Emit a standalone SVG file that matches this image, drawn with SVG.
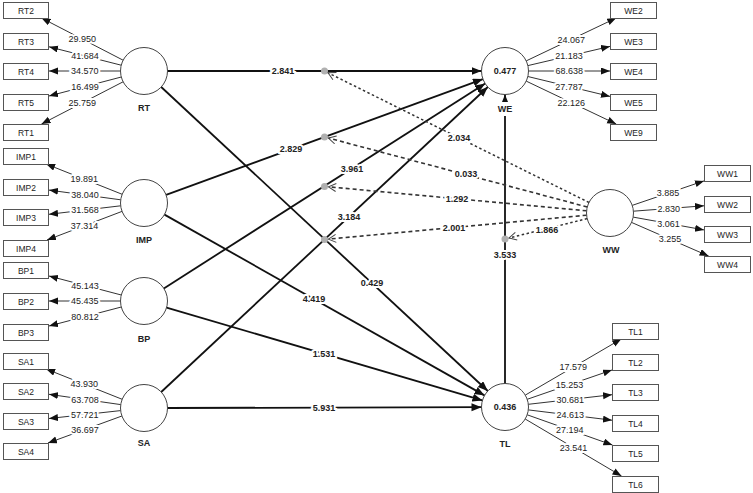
<svg xmlns="http://www.w3.org/2000/svg" width="753" height="493" viewBox="0 0 753 493">
<defs>
<marker id="ah" markerUnits="userSpaceOnUse" markerWidth="10" markerHeight="8" refX="9" refY="3.5" orient="auto"><path d="M0,0 L9,3.5 L0,7 z" fill="#111"/></marker>
<marker id="ahs" markerUnits="userSpaceOnUse" markerWidth="11" markerHeight="9" refX="10" refY="4" orient="auto"><path d="M0,0 L10,4 L0,8 z" fill="#111"/></marker>
<marker id="av" markerUnits="userSpaceOnUse" markerWidth="10" markerHeight="10" refX="8.5" refY="4.5" orient="auto"><path d="M1,0.5 L8.5,4.5 L1,8.5" fill="none" stroke="#444" stroke-width="1"/></marker>
<style>
.box{fill:#fff;stroke:#555;stroke-width:1}
.bt{font-family:"Liberation Sans",Arial,sans-serif;font-size:8.5px;fill:#222;text-anchor:middle;dominant-baseline:central}
.lv{fill:#fff;stroke:#444;stroke-width:1}
.ln{font-family:"Liberation Sans",Arial,sans-serif;font-size:9px;font-weight:bold;fill:#222;text-anchor:middle;dominant-baseline:central}
.ind{stroke:#333;stroke-width:1;fill:none;marker-end:url(#ah)}
.st{stroke:#111;stroke-width:1.8;fill:none;marker-end:url(#ahs)}
.md{stroke:#333;stroke-width:1.6;fill:none;stroke-dasharray:4,3;marker-end:url(#av)}
.md2{stroke:#333;stroke-width:1.5;fill:none;stroke-dasharray:2.5,2.5;marker-end:url(#av)}
.dot{fill:#b0b0b0}
.il{font-family:"Liberation Sans",Arial,sans-serif;font-size:9px;fill:#222;text-anchor:middle;dominant-baseline:central;stroke:#fff;stroke-width:4;paint-order:stroke}
.sl{font-family:"Liberation Sans",Arial,sans-serif;font-size:9px;font-weight:bold;fill:#222;text-anchor:middle;dominant-baseline:central;stroke:#fff;stroke-width:4;paint-order:stroke}
</style>
</defs>
<rect width="753" height="493" fill="#fff"/>

<g id="connectors">
<path class="st" d="M167.5,71 L481.5,71"/>
<path class="st" d="M166.1,194.9 L482.9,79.1"/>
<path class="st" d="M163.8,288.4 L485.2,83.6"/>
<path class="st" d="M161.2,392 L487.8,87"/>
<path class="st" d="M161.2,87 L487.8,391"/>
<path class="st" d="M164.5,214.6 L484.5,395.4"/>
<path class="st" d="M166.6,307.6 L482.4,400.4"/>
<path class="st" d="M167.5,408 L481.5,407.2"/>
<path class="st" d="M505,383.5 L505,94.5"/>
<circle class="dot" cx="324.5" cy="71" r="3.5"/>
<circle class="dot" cx="324.5" cy="137" r="3.5"/>
<circle class="dot" cx="324.5" cy="186.5" r="3.5"/>
<circle class="dot" cx="324.5" cy="239.5" r="3.5"/>
<circle class="dot" cx="505" cy="239" r="3.5"/>
<path class="md2" d="M589,202.5 L328,72.8"/>
<path class="md" d="M587.3,207 L328.4,138"/>
<path class="md" d="M586.6,210.8 L328.5,186.8"/>
<path class="md" d="M586.6,215.2 L328.5,239.1"/>
<path class="md2" d="M587.2,218.6 L509,238"/>
<path class="ind" d="M123.1,60.2 L41.5,18"/>
<path class="ind" d="M121.2,65.2 L49,46.8"/>
<path class="ind" d="M120.5,71 L49,71"/>
<path class="ind" d="M121.3,77 L49,96"/>
<path class="ind" d="M123.1,81.8 L41.5,124"/>
<path class="ind" d="M122.2,194.3 L46.1,164"/>
<path class="ind" d="M120.7,199.8 L49,190.1"/>
<path class="ind" d="M120.7,205.8 L49,214.3"/>
<path class="ind" d="M122,211.4 L47,240"/>
<path class="ind" d="M121.3,295 L49,276"/>
<path class="ind" d="M120.5,301 L49,301"/>
<path class="ind" d="M121.3,307 L49,326"/>
<path class="ind" d="M122.2,399.3 L46.1,369"/>
<path class="ind" d="M120.7,404.6 L49,394.3"/>
<path class="ind" d="M120.6,410.6 L49,418.5"/>
<path class="ind" d="M121.9,416 L48,443"/>
<path class="ind" d="M526.2,60.9 L616.2,18"/>
<path class="ind" d="M527.9,65.6 L610,46.4"/>
<path class="ind" d="M528.5,71 L610,71"/>
<path class="ind" d="M527.8,76.5 L610,96.4"/>
<path class="ind" d="M526.2,81.1 L616.2,124"/>
<path class="ind" d="M525.3,395.1 L621.3,339"/>
<path class="ind" d="M527.2,399.3 L612,370"/>
<path class="ind" d="M528.3,404.3 L612,394.7"/>
<path class="ind" d="M528.3,409.9 L612,420.2"/>
<path class="ind" d="M527.2,414.8 L612.4,445"/>
<path class="ind" d="M525.2,419 L621.5,476"/>
<path class="ind" d="M632.2,205.4 L704,180.9"/>
<path class="ind" d="M633.4,211.2 L704,205.8"/>
<path class="ind" d="M633.1,217.1 L704,229.9"/>
<path class="ind" d="M631.5,222.4 L708.6,256"/>
<text class="sl" x="283" y="71">2.841</text>
<text class="sl" x="291" y="149">2.829</text>
<text class="sl" x="352" y="168.5">3.961</text>
<text class="sl" x="349" y="216.5">3.184</text>
<text class="sl" x="372" y="283">0.429</text>
<text class="sl" x="314" y="299">4.419</text>
<text class="sl" x="324" y="354">1.531</text>
<text class="sl" x="324" y="407.5">5.931</text>
<text class="sl" x="505" y="255">3.533</text>
<text class="sl" x="459" y="138">2.034</text>
<text class="sl" x="466" y="174">0.033</text>
<text class="sl" x="457" y="199">1.292</text>
<text class="sl" x="454" y="228">2.001</text>
<text class="sl" x="547" y="230">1.866</text>
<text class="il" x="82.3" y="39.1">29.950</text>
<text class="il" x="85.1" y="56">41.684</text>
<text class="il" x="84.8" y="71">34.570</text>
<text class="il" x="85.1" y="86.5">16.499</text>
<text class="il" x="82.3" y="102.9">25.759</text>
<text class="il" x="84.2" y="179.2">19.891</text>
<text class="il" x="84.9" y="195">38.040</text>
<text class="il" x="84.9" y="210">31.568</text>
<text class="il" x="84.5" y="225.7">37.314</text>
<text class="il" x="85.1" y="285.5">45.143</text>
<text class="il" x="84.8" y="301">45.435</text>
<text class="il" x="85.1" y="316.5">80.812</text>
<text class="il" x="84.2" y="384.2">43.930</text>
<text class="il" x="84.9" y="399.5">63.708</text>
<text class="il" x="84.8" y="414.5">57.721</text>
<text class="il" x="85" y="429.5">36.697</text>
<text class="il" x="571.2" y="39.5">24.067</text>
<text class="il" x="569" y="56">21.183</text>
<text class="il" x="569.3" y="71">68.638</text>
<text class="il" x="568.9" y="86.5">27.787</text>
<text class="il" x="571.2" y="102.5">22.126</text>
<text class="il" x="573.3" y="367">17.579</text>
<text class="il" x="569.6" y="384.6">15.253</text>
<text class="il" x="570.2" y="399.5">30.681</text>
<text class="il" x="570.2" y="415">24.613</text>
<text class="il" x="569.8" y="429.9">27.194</text>
<text class="il" x="573.4" y="447.5">23.541</text>
<text class="il" x="668.1" y="193.1">3.885</text>
<text class="il" x="668.7" y="208.5">2.830</text>
<text class="il" x="668.6" y="223.5">3.061</text>
<text class="il" x="670" y="239.2">3.255</text>
</g>

<g id="RT"><circle class="lv" cx="144" cy="71" r="23.5"/><text class="ln" x="144" y="108">RT</text></g>
<g id="IMP"><circle class="lv" cx="144" cy="203" r="23.5"/><text class="ln" x="144" y="240">IMP</text></g>
<g id="BP"><circle class="lv" cx="144" cy="301" r="23.5"/><text class="ln" x="144" y="339">BP</text></g>
<g id="SA"><circle class="lv" cx="144" cy="408" r="23.5"/><text class="ln" x="144" y="443">SA</text></g>
<g id="WE"><circle class="lv" cx="505" cy="71" r="23.5"/><text class="ln" x="505" y="71">0.477</text><rect x="495" y="102" width="20" height="14" fill="#fff"/><text class="ln" x="505" y="109">WE</text></g>
<g id="TL"><circle class="lv" cx="505" cy="407" r="23.5"/><text class="ln" x="505" y="407">0.436</text><text class="ln" x="505" y="444">TL</text></g>
<g id="WW"><circle class="lv" cx="610" cy="213" r="23.5"/><text class="ln" x="611" y="250">WW</text></g>

<g id="RT2"><rect class="box" x="3.5" y="2.5" width="45" height="16"/><text class="bt" x="26" y="10.5">RT2</text></g>
<g id="RT3"><rect class="box" x="3.5" y="33.5" width="45" height="16"/><text class="bt" x="26" y="41.5">RT3</text></g>
<g id="RT4"><rect class="box" x="3.5" y="63.5" width="45" height="16"/><text class="bt" x="26" y="71.5">RT4</text></g>
<g id="RT5"><rect class="box" x="3.5" y="94.5" width="45" height="16"/><text class="bt" x="26" y="102.5">RT5</text></g>
<g id="RT1"><rect class="box" x="3.5" y="124.5" width="45" height="16"/><text class="bt" x="26" y="132.5">RT1</text></g>
<g id="IMP1"><rect class="box" x="3.5" y="148.5" width="45" height="16"/><text class="bt" x="26" y="156.5">IMP1</text></g>
<g id="IMP2"><rect class="box" x="3.5" y="179.5" width="45" height="16"/><text class="bt" x="26" y="187.5">IMP2</text></g>
<g id="IMP3"><rect class="box" x="3.5" y="209.5" width="45" height="16"/><text class="bt" x="26" y="217.5">IMP3</text></g>
<g id="IMP4"><rect class="box" x="3.5" y="240.5" width="45" height="16"/><text class="bt" x="26" y="248.5">IMP4</text></g>
<g id="BP1"><rect class="box" x="3.5" y="262.5" width="45" height="16"/><text class="bt" x="26" y="270.5">BP1</text></g>
<g id="BP2"><rect class="box" x="3.5" y="293.5" width="45" height="16"/><text class="bt" x="26" y="301.5">BP2</text></g>
<g id="BP3"><rect class="box" x="3.5" y="324.5" width="45" height="16"/><text class="bt" x="26" y="332.5">BP3</text></g>
<g id="SA1"><rect class="box" x="3.5" y="353.5" width="45" height="16"/><text class="bt" x="26" y="361.5">SA1</text></g>
<g id="SA2"><rect class="box" x="3.5" y="383.5" width="45" height="16"/><text class="bt" x="26" y="391.5">SA2</text></g>
<g id="SA3"><rect class="box" x="3.5" y="413.5" width="45" height="16"/><text class="bt" x="26" y="421.5">SA3</text></g>
<g id="SA4"><rect class="box" x="3.5" y="443.5" width="45" height="16"/><text class="bt" x="26" y="451.5">SA4</text></g>

<g id="WE2"><rect class="box" x="610.5" y="2.5" width="46" height="16"/><text class="bt" x="633.5" y="10.5">WE2</text></g>
<g id="WE3"><rect class="box" x="610.5" y="33.5" width="46" height="16"/><text class="bt" x="633.5" y="41.5">WE3</text></g>
<g id="WE4"><rect class="box" x="610.5" y="63.5" width="46" height="16"/><text class="bt" x="633.5" y="71.5">WE4</text></g>
<g id="WE5"><rect class="box" x="610.5" y="94.5" width="46" height="16"/><text class="bt" x="633.5" y="102.5">WE5</text></g>
<g id="WE9"><rect class="box" x="610.5" y="124.5" width="46" height="16"/><text class="bt" x="633.5" y="132.5">WE9</text></g>

<g id="WW1"><rect class="box" x="704.5" y="165.5" width="46" height="16"/><text class="bt" x="727.5" y="173.5">WW1</text></g>
<g id="WW2"><rect class="box" x="704.5" y="196.5" width="46" height="16"/><text class="bt" x="727.5" y="204.5">WW2</text></g>
<g id="WW3"><rect class="box" x="704.5" y="226.5" width="46" height="16"/><text class="bt" x="727.5" y="234.5">WW3</text></g>
<g id="WW4"><rect class="box" x="704.5" y="256.5" width="46" height="16"/><text class="bt" x="727.5" y="264.5">WW4</text></g>

<g id="TL1"><rect class="box" x="612.5" y="323.5" width="46" height="16"/><text class="bt" x="635.5" y="331.5">TL1</text></g>
<g id="TL2"><rect class="box" x="612.5" y="354.5" width="46" height="16"/><text class="bt" x="635.5" y="362.5">TL2</text></g>
<g id="TL3"><rect class="box" x="612.5" y="384.5" width="46" height="16"/><text class="bt" x="635.5" y="392.5">TL3</text></g>
<g id="TL4"><rect class="box" x="612.5" y="415.5" width="46" height="16"/><text class="bt" x="635.5" y="423.5">TL4</text></g>
<g id="TL5"><rect class="box" x="612.5" y="445.5" width="46" height="16"/><text class="bt" x="635.5" y="453.5">TL5</text></g>
<g id="TL6"><rect class="box" x="612.5" y="476.5" width="46" height="16"/><text class="bt" x="635.5" y="484.5">TL6</text></g>
</svg>
